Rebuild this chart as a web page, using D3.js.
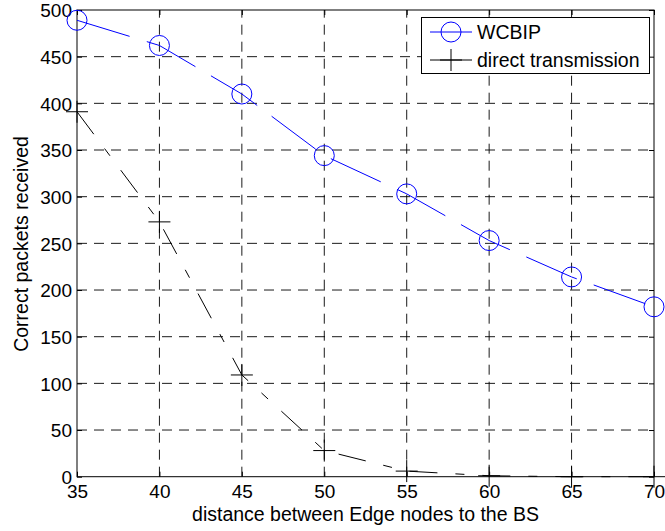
<!DOCTYPE html>
<html>
<head>
<meta charset="utf-8">
<script src="https://cdn.jsdelivr.net/npm/d3@7"></script>
<style>
  html, body { margin: 0; padding: 0; background: #fff; }
  svg { display: block; font-family: "Liberation Sans", Arial, sans-serif; }
</style>
</head>
<body>
<div id="chart"></div>
<script>
// Chart data
const distances = [35, 40, 45, 50, 55, 60, 65, 70];
const wcbip = [489, 462, 410, 344, 303, 253, 214, 182];
const direct = [391, 273, 109, 28, 6, 1, 0, 0];
const xTicks = [35, 40, 45, 50, 55, 60, 65, 70];
const yTicks = [0, 50, 100, 150, 200, 250, 300, 350, 400, 450, 500];
const seriesNames = ['WCBIP', 'direct transmission'];

// Layout
const W = 665, H = 531;
const plot = { left: 77, top: 10, right: 654, bottom: 476.7 };
const FONT = 19.5;
const TICK_FONT = 19;

const svg = d3.select('#chart').append('svg')
  .attr('width', W)
  .attr('height', H);

const x = d3.scaleLinear().domain([35, 70]).range([plot.left, plot.right]);
const y = d3.scaleLinear().domain([0, 500]).range([plot.bottom, plot.top]);

// Grid lines (dashed)
const grid = svg.append('g').attr('class', 'grid')
  .attr('stroke', '#000')
  .attr('stroke-width', 1)
  .attr('stroke-opacity', 0.9)
  .attr('stroke-dasharray', '10,7');

grid.selectAll('.gx')
  .data(xTicks.slice(1, -1))
  .enter()
  .append('line')
  .attr('x1', d => x(d)).attr('x2', d => x(d))
  .attr('y1', plot.bottom).attr('y2', plot.top);

grid.selectAll('.gy')
  .data(yTicks.slice(1, -1))
  .enter()
  .append('line')
  .attr('y1', d => y(d)).attr('y2', d => y(d))
  .attr('x1', plot.left).attr('x2', plot.right);

// Axes with inward ticks on all four sides
function styleAxis(g) {
  g.select('.domain').remove();
  g.selectAll('.tick line').attr('stroke', '#000');
  g.selectAll('.tick text')
    .attr('fill', '#000')
    .attr('font-size', TICK_FONT)
    .attr('font-family', '"Liberation Sans", Arial, sans-serif');
}

svg.append('g')
  .attr('transform', `translate(0,${plot.bottom})`)
  .call(d3.axisBottom(x).tickValues(xTicks).tickSize(-5).tickPadding(8))
  .call(styleAxis)
  .selectAll('.tick text').attr('dy', '0.71em');

svg.append('g')
  .attr('transform', `translate(${plot.left},0)`)
  .call(d3.axisLeft(y).tickValues(yTicks).tickSize(-5).tickPadding(5))
  .call(styleAxis)
  .selectAll('.tick text').attr('dy', '0.36em');

svg.append('g')
  .attr('transform', `translate(0,${plot.top})`)
  .call(d3.axisTop(x).tickValues(xTicks).tickSize(-5).tickFormat(''))
  .call(styleAxis);

svg.append('g')
  .attr('transform', `translate(${plot.right},0)`)
  .call(d3.axisRight(y).tickValues(yTicks).tickSize(-5).tickFormat(''))
  .call(styleAxis);

// Frame
svg.append('rect')
  .attr('x', plot.left).attr('y', plot.top)
  .attr('width', plot.right - plot.left)
  .attr('height', plot.bottom - plot.top)
  .attr('fill', 'none')
  .attr('stroke', '#000')
  .attr('stroke-width', 1);

// Series lines
const line = d3.line().x(d => x(d[0])).y(d => y(d[1]));

svg.append('path')
  .datum(d3.zip(distances, direct))
  .attr('d', line)
  .attr('fill', 'none')
  .attr('stroke', '#000')
  .attr('stroke-width', 1)
  .attr('stroke-dasharray', '28,18,9,18');

svg.append('path')
  .datum(d3.zip(distances, wcbip))
  .attr('d', line)
  .attr('fill', 'none')
  .attr('stroke', '#0000ff')
  .attr('stroke-width', 1)
  .attr('stroke-dasharray', '55,18');

// Markers
const plusPath = s => `M${-s},0H${s}M0,${-s}V${s}`;

svg.append('g').selectAll('path')
  .data(d3.zip(distances, direct))
  .enter()
  .append('path')
  .attr('transform', d => `translate(${x(d[0])},${y(d[1])})`)
  .attr('d', plusPath(11))
  .attr('stroke', '#000')
  .attr('stroke-width', 1)
  .attr('fill', 'none');

svg.append('g').selectAll('circle')
  .data(d3.zip(distances, wcbip))
  .enter()
  .append('circle')
  .attr('cx', d => x(d[0]))
  .attr('cy', d => y(d[1]))
  .attr('r', 10)
  .attr('fill', 'none')
  .attr('stroke', '#0000ff')
  .attr('stroke-width', 1);

// Axis labels
svg.append('text')
  .attr('x', (plot.left + plot.right) / 2)
  .attr('y', 521)
  .attr('text-anchor', 'middle')
  .attr('font-size', FONT)
  .text('distance between Edge nodes to the BS');

svg.append('text')
  .attr('transform', 'translate(28,244) rotate(-90)')
  .attr('text-anchor', 'middle')
  .attr('font-size', FONT)
  .text('Correct packets received');

// Legend
const legend = svg.append('g').attr('class', 'legend');
legend.append('rect')
  .attr('x', 421.5).attr('y', 17.5)
  .attr('width', 228).attr('height', 56)
  .attr('fill', '#fff')
  .attr('stroke', '#000')
  .attr('stroke-width', 1);

const rows = legend.selectAll('.row')
  .data(seriesNames)
  .enter()
  .append('g')
  .attr('transform', (d, i) => `translate(0,${i === 0 ? 32 : 60})`);

rows.append('line')
  .attr('x1', 430).attr('x2', 472)
  .attr('stroke', (d, i) => i === 0 ? '#0000ff' : '#000');

rows.filter((d, i) => i === 0)
  .append('circle')
  .attr('cx', 451).attr('r', 10)
  .attr('fill', 'none').attr('stroke', '#0000ff');

rows.filter((d, i) => i === 1)
  .append('path')
  .attr('transform', 'translate(451,0)')
  .attr('d', plusPath(11))
  .attr('stroke', '#000');

rows.append('text')
  .attr('x', 477)
  .attr('dy', '0.35em')
  .attr('font-size', FONT)
  .text(d => d);
</script>
</body>
</html>
